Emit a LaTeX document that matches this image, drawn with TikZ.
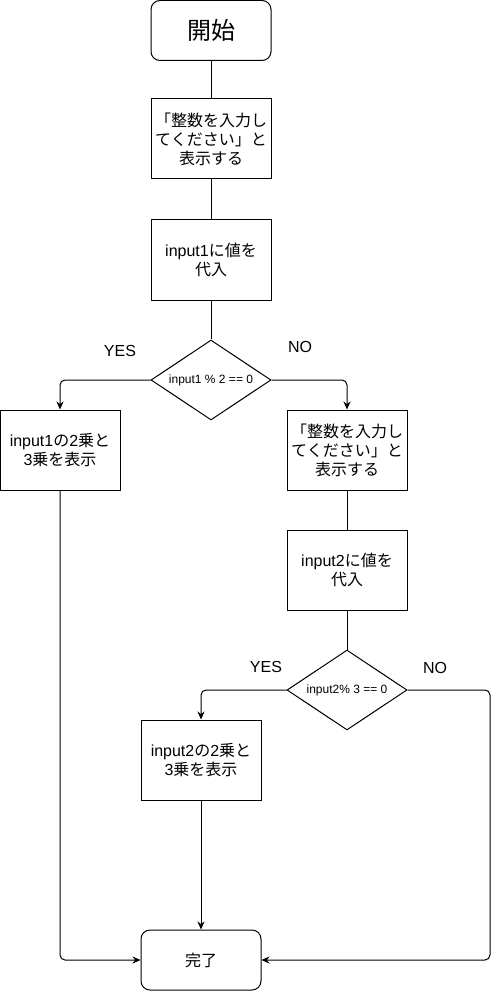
\documentclass[tikz,border=0pt]{standalone}
\usepackage{fontspec}
\setmainfont{Liberation Sans}
\newfontfamily\jp{Noto Sans CJK JP}
\usetikzlibrary{shapes.geometric,arrows.meta}
\begin{document}
\begin{tikzpicture}[x=1pt,y=-1pt,line width=1pt,
   proc/.style={draw,minimum width=120pt,minimum height=80pt,align=center,
      font=\fontsize{16}{19}\selectfont,inner sep=0pt},
   term/.style={draw,rounded corners=9pt,minimum width=120pt,minimum height=60pt,
      align=center,inner sep=0pt},
   cond/.style={draw,diamond,aspect=1.5,minimum width=120pt,minimum height=80pt,
      inner sep=0pt,font=\fontsize{12}{14}\selectfont},
   flow/.style={-{Stealth[length=8pt,width=7pt]},rounded corners=5pt},
   lab/.style={font=\fontsize{16}{19}\selectfont}]
   \useasboundingbox (0,0) rectangle (500,992);

   \node[term,font=\fontsize{24}{28}\selectfont] (start) at (211,30.5) {\jp 開始};
   \node[proc] (msg1) at (211,139) {\jp 「整数を入力し\\\jp てください」と\\\jp 表示する};
   \node[proc] (in1) at (211,260) {input1{\jp に値を}\\\jp 代入};
   \node[cond] (dec1) at (211,380) {input1 \% 2 == 0};
   \node[proc] (out1) at (60,450) {input1{\jp の}2{\jp 乗と}\\3{\jp 乗を表示}};
   \node[proc] (msg2) at (347,450) {\jp 「整数を入力し\\\jp てください」と\\\jp 表示する};
   \node[proc] (in2) at (347,570) {input2{\jp に値を}\\\jp 代入};
   \node[cond] (dec2) at (347,690) {input2\% 3 == 0};
   \node[proc] (out2) at (201,760) {input2{\jp の}2{\jp 乗と}\\3{\jp 乗を表示}};
   \node[term,font=\fontsize{16}{19}\selectfont] (stop) at (201,960) {\jp 完了};
   \coordinate (bend) at (490,690);

   \node[lab] (yes1) at (120,351) {YES};
   \node[lab] (no1) at (300,347) {NO};
   \node[lab] (yes2) at (266,667) {YES};
   \node[lab] (no2) at (435,668) {NO};

   \draw (start) -- (msg1);
   \draw (msg1) -- (in1);
   \draw (in1) -- (dec1);
   \draw[flow] (dec1.west) -| (out1.north);
   \draw[flow] (dec1.east) -| (msg2.north);
   \draw (msg2) -- (in2);
   \draw (in2) -- (dec2);
   \draw[flow] (dec2.west) -| (out2.north);
   \draw[flow] (dec2.east) -- (bend) |- (stop.east);
   \draw[flow] (out1.south) |- (stop.west);
   \draw[flow] (out2) -- (stop);
 \end{tikzpicture}
\end{document}
